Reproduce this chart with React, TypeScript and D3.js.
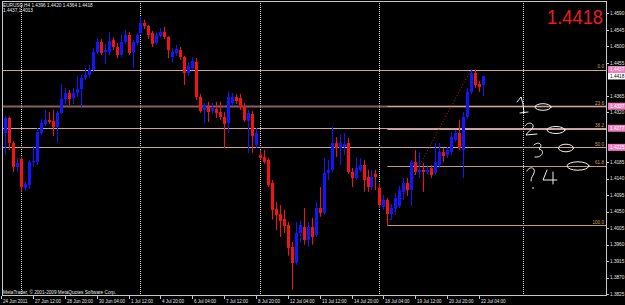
import React from 'react';
import * as d3 from 'd3';

// EURUSD H4, bars from 24 Jun 2011 04:00 to 22 Jul 2011 08:00
const opens = [1.4267,1.4264,1.4305,1.4237,1.4172,1.4194,1.4115,1.4123,1.4185,1.4185,1.4264,1.4289,1.4300,1.4297,1.4281,1.4319,1.4357,1.4373,1.4359,1.4373,1.4384,1.4414,1.4422,1.4436,1.4485,1.4512,1.4485,1.4485,1.4517,1.4498,1.4476,1.4512,1.4531,1.4485,1.4509,1.4536,1.4563,1.4555,1.4536,1.4509,1.4528,1.4539,1.4525,1.4471,1.4482,1.4490,1.4471,1.4427,1.4441,1.4457,1.4362,1.4327,1.4335,1.4324,1.4329,1.4321,1.4308,1.4291,1.4346,1.4362,1.4359,1.4338,1.4297,1.4316,1.4232,1.4204,1.4199,1.4191,1.4128,1.4057,1.4044,1.4030,1.4014,1.3954,1.3911,1.3992,1.4009,1.3973,1.4009,1.3987,1.4060,1.4047,1.4155,1.4164,1.4237,1.4223,1.4226,1.4237,1.4158,1.4142,1.4164,1.4177,1.4145,1.4117,1.4153,1.4115,1.4063,1.4082,1.4044,1.4060,1.4066,1.4104,1.4128,1.4109,1.4185,1.4158,1.4164,1.4158,1.4169,1.4155,1.4177,1.4213,1.4204,1.4213,1.4245,1.4264,1.4218,1.4308,1.4376,1.4427,1.4398,1.4396];
const highs = [1.4275,1.4310,1.4308,1.4242,1.4196,1.4199,1.4131,1.4191,1.4229,1.4278,1.4302,1.4327,1.4321,1.4327,1.4324,1.4398,1.4387,1.4381,1.4387,1.4419,1.4422,1.4441,1.4449,1.4495,1.4523,1.4520,1.4506,1.4539,1.4525,1.4509,1.4534,1.4544,1.4539,1.4517,1.4536,1.4580,1.4572,1.4558,1.4542,1.4539,1.4550,1.4553,1.4528,1.4495,1.4504,1.4498,1.4474,1.4457,1.4471,1.4468,1.4370,1.4346,1.4349,1.4346,1.4349,1.4349,1.4321,1.4376,1.4373,1.4370,1.4370,1.4346,1.4327,1.4324,1.4278,1.4218,1.4218,1.4196,1.4136,1.4077,1.4068,1.4055,1.4022,1.3968,1.4022,1.4025,1.4060,1.4022,1.4033,1.4077,1.4117,1.4196,1.4191,1.4281,1.4253,1.4259,1.4264,1.4251,1.4169,1.4199,1.4196,1.4191,1.4164,1.4164,1.4164,1.4128,1.4096,1.4087,1.4071,1.4101,1.4120,1.4142,1.4142,1.4191,1.4218,1.4210,1.4183,1.4177,1.4177,1.4237,1.4237,1.4223,1.4226,1.4267,1.4272,1.4300,1.4321,1.4387,1.4437,1.4437,1.4406,1.4420];
const lows = [1.4259,1.4204,1.4218,1.4158,1.4158,1.4104,1.4106,1.4112,1.4172,1.4177,1.4259,1.4283,1.4289,1.4256,1.4237,1.4316,1.4343,1.4340,1.4343,1.4362,1.4335,1.4408,1.4417,1.4430,1.4479,1.4476,1.4452,1.4476,1.4490,1.4468,1.4471,1.4506,1.4476,1.4441,1.4504,1.4531,1.4547,1.4520,1.4498,1.4504,1.4525,1.4520,1.4468,1.4457,1.4474,1.4463,1.4395,1.4419,1.4436,1.4354,1.4319,1.4291,1.4294,1.4316,1.4305,1.4300,1.4223,1.4264,1.4338,1.4343,1.4327,1.4294,1.4210,1.4210,1.4223,1.4191,1.4180,1.4117,1.4028,1.4000,1.3981,1.3992,1.3930,1.3837,1.3905,1.3965,1.3960,1.3954,1.3960,1.3981,1.4036,1.4041,1.4136,1.4158,1.4199,1.4177,1.4204,1.4153,1.4117,1.4136,1.4158,1.4104,1.4104,1.4109,1.4109,1.4060,1.4055,1.4013,1.4028,1.4041,1.4060,1.4082,1.4093,1.4066,1.4150,1.4142,1.4104,1.4150,1.4142,1.4150,1.4169,1.4185,1.4196,1.4204,1.4240,1.4218,1.4142,1.4302,1.4370,1.4387,1.4376,1.4364];
const closes = [1.4262,1.4305,1.4237,1.4172,1.4183,1.4117,1.4126,1.4185,1.4188,1.4267,1.4291,1.4300,1.4294,1.4281,1.4319,1.4357,1.4373,1.4357,1.4373,1.4384,1.4414,1.4422,1.4436,1.4485,1.4512,1.4482,1.4490,1.4514,1.4498,1.4476,1.4512,1.4531,1.4482,1.4512,1.4531,1.4563,1.4555,1.4531,1.4506,1.4531,1.4539,1.4525,1.4490,1.4485,1.4493,1.4471,1.4427,1.4446,1.4460,1.4362,1.4324,1.4338,1.4321,1.4332,1.4319,1.4308,1.4289,1.4362,1.4362,1.4351,1.4335,1.4300,1.4319,1.4256,1.4264,1.4196,1.4185,1.4123,1.4055,1.4041,1.4025,1.4011,1.3951,1.3911,1.3992,1.4014,1.3973,1.4009,1.3981,1.4060,1.4047,1.4155,1.4164,1.4237,1.4223,1.4237,1.4234,1.4158,1.4142,1.4169,1.4177,1.4136,1.4117,1.4145,1.4145,1.4068,1.4082,1.4044,1.4060,1.4087,1.4109,1.4128,1.4109,1.4185,1.4158,1.4164,1.4158,1.4164,1.4150,1.4185,1.4213,1.4202,1.4218,1.4253,1.4264,1.4223,1.4308,1.4376,1.4427,1.4395,1.4389,1.4418];

const timeLabels = ['24 Jun 2011','27 Jun 12:00','28 Jun 20:00','30 Jun 04:00','1 Jul 12:00','4 Jul 20:00','6 Jul 04:00','7 Jul 12:00','8 Jul 20:00','12 Jul 04:00','13 Jul 12:00','14 Jul 20:00','18 Jul 04:00','19 Jul 12:00','20 Jul 20:00','22 Jul 04:00'];
const timeLabelIdx = [0,8,16,24,32,40,48,56,64,72,80,88,96,104,112,120];
const separatorIdx = [5,35,65,95];
const vLineIdx = [131];

const priceTicks = [1.3825,1.3870,1.3915,1.3960,1.4005,1.4050,1.4095,1.4140,1.4185,1.4230,1.4275,1.4320,1.4365,1.4410,1.4455,1.4500,1.4545,1.4590];
const hLinePrices = [1.4437,1.4337,1.4277,1.4225];
const hLineLabels = ['1.4437','1.4337','1.4277','1.4225'];
const bidPrice = 1.4418;

const fibHigh = 1.4437;
const fibLow = 1.4013;
const fibStartIdx = 97;
const fibEndIdx = 118;
const fibLevels = [0, 23.6, 38.2, 50.0, 61.8, 100.0];
const fibLabels = ['0.0','23.6','38.2','50.0','61.8','100.0'];

const headerText = 'EURUSD,H4  1.4396 1.4420 1.4364 1.4418';
const header2 = '1.4437,1.4013';
const copyright = 'MetaTrader, \u00A9 2001-2009 MetaQuotes Software Corp.';

const W = 625, H = 305;
const PL = 2, PT = 1, PR = 607, PB = 296;
const FONT = '"Liberation Sans", Arial, sans-serif';

export default function App() {
  const x = d3.scaleLinear().domain([0, 121]).range([1.1, 483.0]);
  const y = d3.scaleLinear().domain([1.3825, 1.4590]).range([294.3, 13.3]);
  const px = (i: number) => Math.round(x(i));

  const bull = '#1414ff';
  const bear = '#f01414';

  const fibPrice = (lv: number) => fibHigh - (lv / 100) * (fibHigh - fibLow);

  const boxPrices = hLinePrices.concat([bidPrice]);
  const visibleTicks = priceTicks.filter(t => boxPrices.every(p => Math.abs(y(t) - y(p)) > 5));

  return (
    <svg width={W} height={H} style={{ position: 'fixed', left: 0, top: 0, display: 'block' }}>
      <defs>
        <clipPath id="plotClip">
          <rect x={PL} y={PT} width={PR - PL} height={PB - PT} />
        </clipPath>
      </defs>
      <rect x={0} y={0} width={W} height={H} fill="#000" />

      <g clipPath="url(#plotClip)">
        {separatorIdx.concat(vLineIdx).map((i, k) => (
          <line key={'s' + k} x1={px(i) + 0.5} x2={px(i) + 0.5} y1={PT} y2={PB}
            stroke="#d8d8d8" strokeWidth={1} strokeDasharray="1 1" />
        ))}

        {hLinePrices.map((p, k) => (
          <line key={'h' + k} x1={PL} x2={PR} y1={Math.round(y(p)) + 0.5} y2={Math.round(y(p)) + 0.5}
            stroke={k === 1 ? '#8a5e5e' : '#cfa2a2'} strokeWidth={k === 1 ? 2 : 1} />
        ))}

        {fibLevels.map((lv, k) => (
          <line key={'f' + k} x1={x(fibStartIdx)} x2={PR} y1={Math.round(y(fibPrice(lv))) + 0.5} y2={Math.round(y(fibPrice(lv))) + 0.5}
            stroke={k < 4 ? '#cfa2a2' : '#c49a7c'} strokeWidth={1} />
        ))}
        <line x1={x(fibStartIdx)} y1={y(fibLow)} x2={x(fibEndIdx)} y2={y(fibHigh)}
          stroke="#b02828" strokeWidth={1} strokeDasharray="1 2" />

        {opens.map((o, i) => {
          const c = closes[i];
          const col = c >= o ? bull : bear;
          const yt = Math.round(y(Math.max(o, c)));
          const yb = Math.round(y(Math.min(o, c)));
          return (
            <g key={'c' + i}>
              <line x1={px(i) + 0.5} x2={px(i) + 0.5} y1={y(highs[i])} y2={y(lows[i])} stroke={col} strokeWidth={1} />
              <rect x={px(i) - 1} y={yt} width={3} height={Math.max(1, yb - yt)} fill={col} />
            </g>
          );
        })}

        {fibLevels.map((lv, k) => (
          <text key={'fl' + k} x={604} y={y(fibPrice(lv)) - 1.5} textAnchor="end" fontFamily={FONT}
            fontSize={4.6} fill="#d0a060">{fibLabels[k]}</text>
        ))}

        <g stroke="#f0f0f0" strokeWidth={1} fill="none" strokeLinecap="round" strokeLinejoin="round">
          <path d="M517,102 L521,97 L523,104 L524,113 M520,113 L528,112" />
          <ellipse cx={543} cy={107} rx={8} ry={3.3} />
          <path d="M525,126 C527,122 534,122 533,127 C532,130 527,132 526,135 L537,134" />
          <ellipse cx={556} cy={130} rx={9} ry={3.5} />
          <path d="M534,145 C538,141 544,144 539,149 C545,150 543,158 535,157" />
          <ellipse cx={566} cy={148} rx={7.5} ry={3.8} />
          <path d="M527,171 C529,166 536,167 534,173 C533,176 531,177 531,181" />
          <path d="M547,170 L543,180 L557,180 M553,172 L553,184" />
          <ellipse cx={578} cy={166} rx={11} ry={4.2} />
        </g>
        <circle cx={533} cy={188} r={0.8} fill="#f0f0f0" />

        <text x={3} y={7} fontFamily={FONT} fontSize={4.7} fill="#e8e8e8">{headerText}</text>
        <text x={3} y={12} fontFamily={FONT} fontSize={4.7} fill="#e8e8e8">{header2}</text>
        <text x={3} y={294} fontFamily={FONT} fontSize={4.7} fill="#e8e8e8">{copyright}</text>
        <text x={547} y={24} fontFamily={FONT} fontSize={21} fill="#ee1c1c" textLength={56} lengthAdjust="spacingAndGlyphs">1.4418</text>
      </g>

      <rect x={PL + 0.5} y={PT + 0.5} width={PR - PL - 1} height={PB - PT - 1} fill="none" stroke="#c8c8c8" strokeWidth={1} />

      {visibleTicks.map((t, k) => (
        <g key={'t' + k}>
          <line x1={PR} x2={PR + 2} y1={Math.round(y(t)) + 0.5} y2={Math.round(y(t)) + 0.5} stroke="#c8c8c8" />
          <text x={610} y={y(t) + 1.7} fontFamily={FONT} fontSize={4.7} fill="#e0e0e0">{t.toFixed(4)}</text>
        </g>
      ))}
      {hLinePrices.map((p, k) => (
        <g key={'hb' + k}>
          <rect x={608} y={y(p) - 3.5} width={17} height={7} fill="#ee7ec0" />
          <text x={610} y={y(p) + 1.7} fontFamily={FONT} fontSize={4.7} fill="#ffffff">{hLineLabels[k]}</text>
        </g>
      ))}
      <rect x={608} y={y(bidPrice) - 3.5} width={17} height={6.5} fill="#ffffff" />
      <text x={610} y={y(bidPrice) + 1.7} fontFamily={FONT} fontSize={4.7} fill="#000">{bidPrice.toFixed(4)}</text>

      {timeLabelIdx.map((i, k) => (
        <g key={'x' + k}>
          <line x1={px(i) + 0.5} x2={px(i) + 0.5} y1={PB} y2={PB + 3} stroke="#c8c8c8" />
          <text x={px(i) + 2} y={303} fontFamily={FONT} fontSize={4.5} fill="#e0e0e0">{timeLabels[k]}</text>
        </g>
      ))}
    </svg>
  );
}
